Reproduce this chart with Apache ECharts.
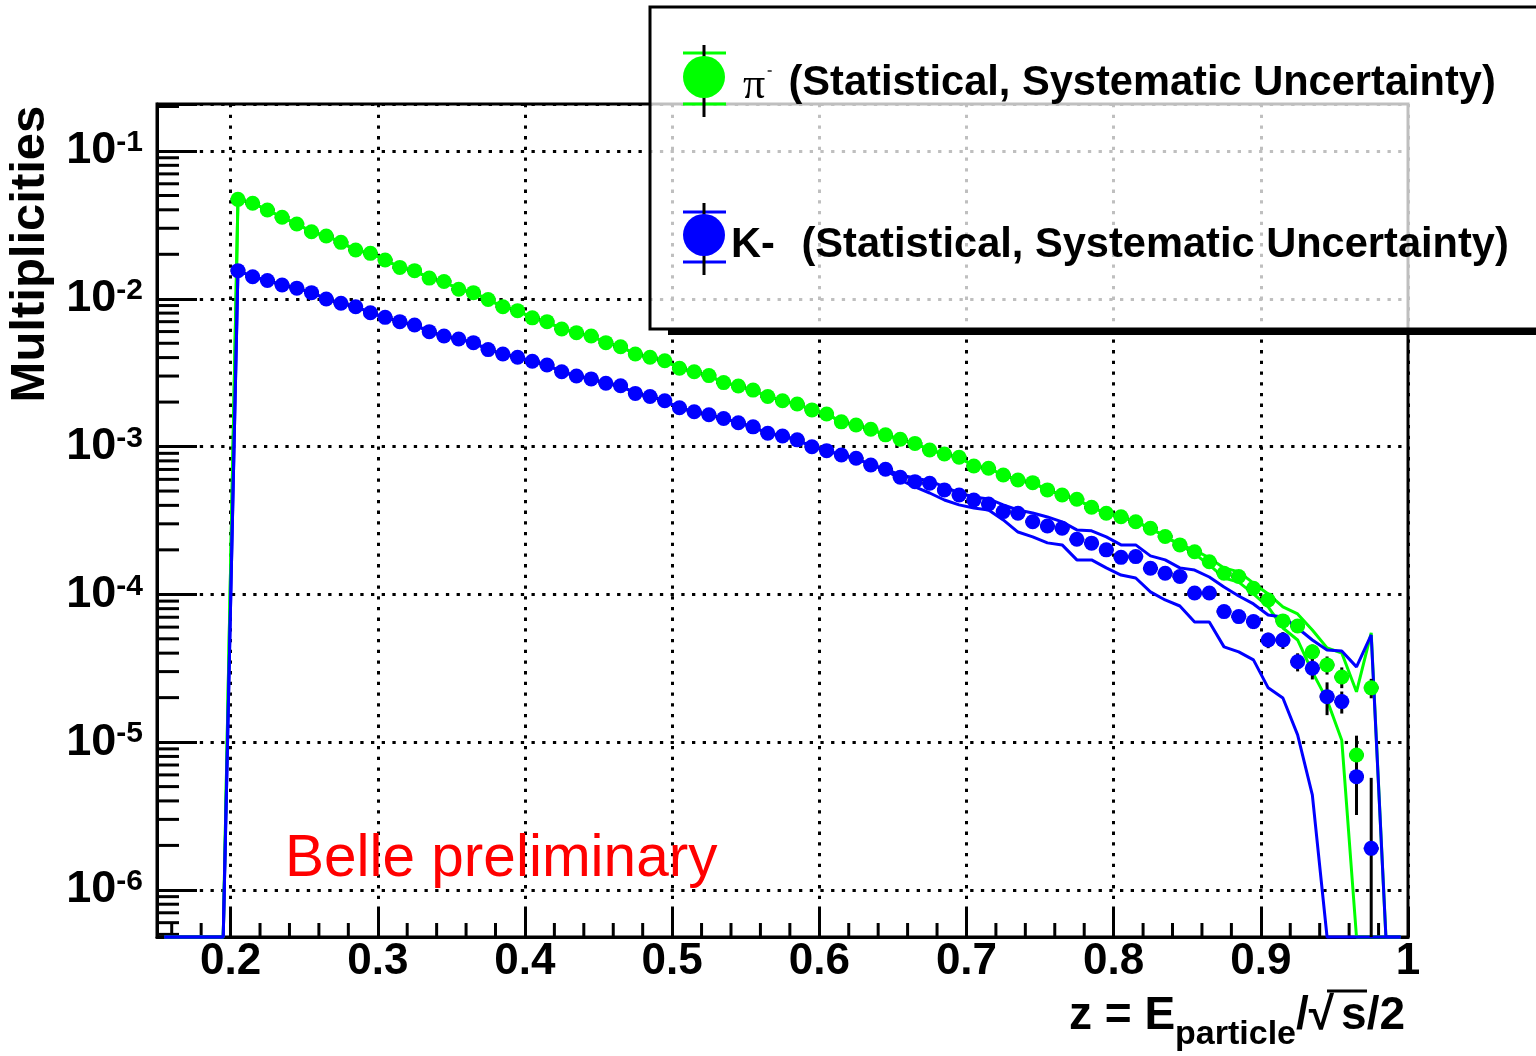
<!DOCTYPE html>
<html><head><meta charset="utf-8">
<script src="https://cdn.jsdelivr.net/npm/echarts@6/dist/echarts.min.js"></script>
<style>html,body{margin:0;padding:0;background:#fff}#c{width:1536px;height:1056px}</style>
</head><body><div id="c"></div>
<script>
// ---------- data ----------
const zBins = [
 0.205,0.215,0.225,0.235,0.245,0.255,0.265,0.275,0.285,0.295,
 0.305,0.315,0.325,0.335,0.345,0.355,0.365,0.375,0.385,0.395,
 0.405,0.415,0.425,0.435,0.445,0.455,0.465,0.475,0.485,0.495,
 0.505,0.515,0.525,0.535,0.545,0.555,0.565,0.575,0.585,0.595,
 0.605,0.615,0.625,0.635,0.645,0.655,0.665,0.675,0.685,0.695,
 0.705,0.715,0.725,0.735,0.745,0.755,0.765,0.775,0.785,0.795,
 0.805,0.815,0.825,0.835,0.845,0.855,0.865,0.875,0.885,0.895,
 0.905,0.915,0.925,0.935,0.945,0.955,0.965,0.975];
// pi- multiplicities
const piMult = [
 0.0471,0.0443,0.0399,0.0356,0.0321,0.0284,0.0266,0.0241,0.0214,0.0203,
 0.0183,0.0163,0.0155,0.0138,0.0131,0.0116,0.0110,0.00988,0.00884,0.00831,
 0.00743,0.00700,0.00625,0.00590,0.00560,0.00505,0.00474,0.00423,0.00402,0.00381,
 0.00339,0.00321,0.00302,0.00271,0.00257,0.00241,0.00218,0.00204,0.00194,0.00177,
 0.00166,0.00147,0.00140,0.00131,0.00120,0.00112,0.00105,0.000948,0.000891,0.000847,
 0.000739,0.000713,0.000642,0.000594,0.000570,0.000509,0.000470,0.000440,0.000388,0.000354,
 0.000335,0.000310,0.000280,0.000246,0.000216,0.000194,0.000166,0.000139,0.000132,0.000110,
 9.16e-5,6.61e-5,6.11e-5,4.08e-5,3.33e-5,2.76e-5,8.19e-6,2.33e-5];
// K- multiplicities
const kMult = [
 0.0155,0.0141,0.0133,0.0124,0.0118,0.0110,0.00997,0.00932,0.00884,0.00805,
 0.00749,0.00700,0.00665,0.00599,0.00560,0.00534,0.00505,0.00453,0.00423,0.00402,
 0.00378,0.00356,0.00321,0.00300,0.00287,0.00268,0.00258,0.00229,0.00218,0.00204,
 0.00183,0.00172,0.00164,0.00155,0.00145,0.00136,0.00123,0.00118,0.00111,0.000998,
 0.000938,0.000877,0.000833,0.000751,0.000702,0.000620,0.000579,0.000564,0.000509,0.000470,
 0.000435,0.000409,0.000363,0.000354,0.000310,0.000290,0.000280,0.000236,0.000222,0.000200,
 0.000178,0.000180,0.000150,0.000139,0.000132,0.000102,0.000102,7.64e-5,7.07e-5,6.54e-5,
 4.91e-5,4.91e-5,3.50e-5,3.16e-5,2.03e-5,1.88e-5,5.84e-6,1.91e-6];
// statistical uncertainty, percent of value
const piStatPct = [
 0.4,0.4,0.4,0.4,0.4,0.4,0.4,0.4,0.4,0.4,
 0.5,0.5,0.5,0.5,0.5,0.5,0.5,0.5,0.5,0.5,
 0.7,0.7,0.7,0.7,0.7,0.7,0.7,0.7,0.7,0.7,
 1.0,1.0,1.0,1.0,1.0,1.0,1.0,1.0,1.0,1.0,
 1.4,1.5,1.5,1.6,1.7,1.8,1.9,2.0,2.1,2.2,
 2.4,2.5,2.7,2.8,3.0,3.2,3.4,3.6,3.8,4.0,
 4.2,4.4,4.7,5.0,5.3,5.6,6.0,6.5,7.0,7.5,
 8,9,10,12,14,16,35,15];
const kStatPct = [
 0.6,0.6,0.6,0.6,0.6,0.6,0.6,0.6,0.6,0.6,
 0.8,0.8,0.8,0.8,0.8,0.8,0.8,0.8,0.8,0.8,
 1.0,1.0,1.0,1.0,1.0,1.0,1.0,1.0,1.0,1.0,
 1.3,1.3,1.3,1.3,1.3,1.3,1.3,1.3,1.3,1.3,
 1.8,1.9,2.0,2.1,2.2,2.3,2.4,2.5,2.6,2.8,
 3.0,3.2,3.4,3.6,3.8,4.0,4.2,4.5,4.8,5.0,
 5.3,5.6,6,6.5,7,7.5,8,9,10,11,
 12,13,14,16,25,17,45,200];
// empty bins below the z threshold
const zEmptyLow = [0.155,0.165,0.175,0.185,0.195];
// systematic band edges where they separate from the points (below: band hidden under markers)
const kSysZ = [0.655,0.665,0.675,0.685,0.695,0.705,0.715,0.725,0.735,0.745,
 0.755,0.765,0.775,0.785,0.795,0.805,0.815,0.825,0.835,0.845,
 0.855,0.865,0.875,0.885,0.895,0.905,0.915,0.925,0.935,0.945,
 0.955,0.965,0.975,0.985,0.995];
const kSysUp = [6.42e-4,6.13e-4,5.85e-4,5.33e-4,4.85e-4,4.56e-4,4.42e-4,4.03e-4,3.72e-4,3.55e-4,
 3.34e-4,3.09e-4,2.73e-4,2.69e-4,2.45e-4,2.16e-4,2.16e-4,1.82e-4,1.71e-4,1.51e-4,
 1.46e-4,1.31e-4,1.12e-4,9.75e-5,8.61e-5,7.25e-5,7.03e-5,5.92e-5,4.91e-5,4.20e-5,
 4.14e-5,3.23e-5,5.31e-5,0,0];
const kSysLow = [5.94e-4,5.33e-4,4.85e-4,4.35e-4,4.03e-4,3.84e-4,3.72e-4,3.19e-4,2.64e-4,2.45e-4,
 2.23e-4,2.16e-4,1.71e-4,1.71e-4,1.51e-4,1.35e-4,1.29e-4,1.04e-4,9.16e-5,8.34e-5,
 6.50e-5,6.50e-5,4.41e-5,4.08e-5,3.60e-5,2.33e-5,1.99e-5,1.12e-5,4.39e-6,0,
 0,0,0,0,0];
const piSysZ = [0.855,0.865,0.875,0.885,0.895,0.905,0.915,0.925,0.935,0.945,0.955,0.965,0.975,0.985,0.995];
const piSysUp = [2.00e-4,1.76e-4,1.51e-4,1.42e-4,1.19e-4,1.006e-4,8.22e-5,7.37e-5,5.74e-5,4.34e-5,4.01e-5,2.19e-5,5.48e-5,0,0];
const piSysLow = [1.88e-4,1.58e-4,1.29e-4,1.21e-4,1.006e-4,8.22e-5,5.92e-5,4.91e-5,2.99e-5,1.93e-5,1.03e-5,0,0,0,0];
// axis ticks
const xMajor = [0.2,0.3,0.4,0.5,0.6,0.7,0.8,0.9,1.0];
const xMinor = [0.16,0.18,0.22,0.24,0.26,0.28,0.32,0.34,0.36,0.38,0.42,0.44,0.46,0.48,0.52,0.54,0.56,0.58,
  0.62,0.64,0.66,0.68,0.72,0.74,0.76,0.78,0.82,0.84,0.86,0.88,0.92,0.94,0.96,0.98];
const yMinorMantissa = [2,3,4,5,6,7,8,9];
const yDecades = [-7,-6,-5,-4,-3,-2,-1];

const XMIN = 0.15, XMAX = 1.0, YMIN = 4.8e-7, YMAX = 0.208;
const GREEN = '#00ff00', BLUE = '#0000ff';
const FONT = "'Liberation Sans', Arial, Helvetica, sans-serif";

// ---------- helpers ----------
const clampY = v => Math.max(v, YMIN);
function bandLine(central, sysZ, sysVals) {
  const pts = zEmptyLow.map(z => [z, 0]);
  zBins.forEach((z, i) => { if (z < sysZ[0] - 1e-9) pts.push([z, central[i]]); });
  sysZ.forEach((z, i) => pts.push([z, sysVals[i]]));
  return pts.map(p => [p[0], clampY(p[1])]);
}
function errData(central, pct) {
  return zBins.map((z, i) => [z, central[i], central[i] * pct[i] / 100]);
}
function pointData(central) { return zBins.map((z, i) => [z, central[i]]); }

function errRender(params, api) {
  const z = api.value(0), v = api.value(1), e = api.value(2);
  const top = api.coord([z, Math.min(v + e, YMAX)]);
  const bot = api.coord([z, clampY(v - e)]);
  const l = api.coord([z - 0.005, v]);
  const r = api.coord([z + 0.005, v]);
  const st = { stroke: '#000', lineWidth: 3 };
  return { type: 'group', children: [
    { type: 'line', shape: { x1: top[0], y1: top[1], x2: bot[0], y2: bot[1] }, style: st },
    { type: 'line', shape: { x1: l[0], y1: l[1], x2: r[0], y2: r[1] }, style: st }
  ]};
}

const minorTickData = [];
xMinor.forEach(z => minorTickData.push([z, YMIN, 0]));
yDecades.forEach(d => yMinorMantissa.forEach(m => {
  const v = m * Math.pow(10, d);
  if (v > YMIN && v < YMAX) minorTickData.push([XMIN, v, 1]);
}));

function lineSeries(name, data, color) {
  return { name, type: 'line', data, showSymbol: false, symbol: 'none', clip: false, z: 3,
    lineStyle: { color, width: 3 }, itemStyle: { color }, silent: true, animation: false };
}
function errSeries(name, data) {
  return { name, type: 'custom', data, renderItem: errRender, clip: false, z: 4, silent: true,
    encode: { x: 0, y: 1 } };
}
function markerSeries(name, data, color) {
  return { name, type: 'scatter', data, symbol: 'circle', symbolSize: 15, clip: false, z: 5,
    itemStyle: { color, opacity: 1 }, silent: true };
}

const option = {
  animation: false,
  backgroundColor: '#fff',
  grid: { left: 157, top: 104, width: 1251, height: 833, show: true, borderColor: '#000', borderWidth: 3, backgroundColor: 'transparent' },
  xAxis: {
    type: 'value', min: XMIN, max: XMAX, splitNumber: 8,
    axisLine: { show: true, onZero: false, lineStyle: { color: '#000', width: 3 } },
    axisTick: { show: true, inside: true, length: 30, customValues: xMajor, lineStyle: { color: '#000', width: 3 } },
    axisLabel: {
      customValues: xMajor, margin: 3, color: '#000', fontSize: 44, fontWeight: 'bold', fontFamily: FONT,
      formatter: v => { const r = Math.round(v * 10) / 10; if (Math.abs(v - r) > 1e-6) return ''; return r === 1 ? '1' : r.toFixed(1); }
    },
    splitLine: { show: true, lineStyle: { color: '#000', width: 3, type: [3.3, 7.4] } }
  },
  yAxis: {
    type: 'log', logBase: 10, min: YMIN, max: YMAX,
    axisLine: { show: true, onZero: false, lineStyle: { color: '#000', width: 3 } },
    axisTick: { show: true, inside: true, length: 40, lineStyle: { color: '#000', width: 3 } },
    minorTick: { show: false },
    axisLabel: {
      margin: 14, color: '#000',
      formatter: v => { const e = Math.log10(v); const r = Math.round(e); if (Math.abs(e - r) > 1e-6) return ''; return '{b|10}{s|' + r + '}'; },
      rich: {
        b: { fontSize: 45, fontWeight: 'bold', fontFamily: FONT, color: '#000', lineHeight: 46 },
        s: { fontSize: 30, fontWeight: 'bold', fontFamily: FONT, color: '#000', lineHeight: 16, verticalAlign: 'top' }
      }
    },
    splitLine: { show: true, lineStyle: { color: '#000', width: 3, type: [3.3, 7.4] } }
  },
  series: [
    { name: 'minor ticks', type: 'custom', data: minorTickData, clip: false, z: 1, silent: true,
      renderItem: (params, api) => {
        const p = api.coord([api.value(0), api.value(1)]);
        const k = api.value(2);
        const shape = k === 1 ? { x1: p[0], y1: p[1], x2: p[0] + 22, y2: p[1] } : { x1: p[0], y1: p[1], x2: p[0], y2: p[1] - 14 };
        return { type: 'line', shape, style: { stroke: '#000', lineWidth: 3 } };
      } },
    lineSeries('π- sys up', bandLine(piMult, piSysZ, piSysUp), GREEN),
    lineSeries('π- sys low', bandLine(piMult, piSysZ, piSysLow), GREEN),
    errSeries('π- stat', errData(piMult, piStatPct)),
    markerSeries('π-', pointData(piMult), GREEN),
    lineSeries('K- sys up', bandLine(kMult, kSysZ, kSysUp), BLUE),
    lineSeries('K- sys low', bandLine(kMult, kSysZ, kSysLow), BLUE),
    errSeries('K- stat', errData(kMult, kStatPct)),
    markerSeries('K-', pointData(kMult), BLUE)
  ],
  graphic: [
    // y axis title
    { type: 'text', x: 30.5, y: 254, rotation: Math.PI / 2, z: 50,
      style: { text: 'Multiplicities', font: "bold 49px " + FONT, fill: '#000', align: 'center', verticalAlign: 'middle' } },
    // x axis title
    { type: 'text', x: 1405, y: 993, z: 50,
      style: { text: '{m|z = E}{sub|particle}{r|/√}{m|s/2}', align: 'right', verticalAlign: 'top',
        rich: {
          m: { fontSize: 46, fontWeight: 'bold', fontFamily: FONT, fill: '#000', lineHeight: 46, verticalAlign: 'top' },
          r: { fontSize: 46, fontWeight: 'bold', fontFamily: FONT, fill: '#000', lineHeight: 46, verticalAlign: 'top', padding: [0, 7, 0, 0] },
          sub: { fontSize: 34, fontWeight: 'bold', fontFamily: FONT, fill: '#000', lineHeight: 34, verticalAlign: 'top', padding: [25, 0, 0, 0] }
        } } },
    { type: 'line', z: 50, shape: { x1: 1327, y1: 991, x2: 1367, y2: 991 }, style: { stroke: '#000', lineWidth: 3 } },
    // Belle preliminary
    { type: 'text', x: 285, y: 860, z: 50,
      style: { text: 'Belle preliminary', font: "58.5px " + FONT, fill: '#ff0000', align: 'left', verticalAlign: 'middle' } },
    // legend box
    { type: 'group', z: 100, children: [
      { type: 'rect', z: 100, shape: { x: 650, y: 7, width: 960, height: 322 }, style: { fill: 'rgba(255,255,255,0.75)', stroke: '#000', lineWidth: 3 } },
      { type: 'rect', z: 100, shape: { x: 668, y: 330, width: 900, height: 5 }, style: { fill: '#000' } },
      // pi entry
      { type: 'line', z: 101, shape: { x1: 683, y1: 53, x2: 726, y2: 53 }, style: { stroke: GREEN, lineWidth: 3 } },
      { type: 'line', z: 101, shape: { x1: 683, y1: 104, x2: 726, y2: 104 }, style: { stroke: GREEN, lineWidth: 3 } },
      { type: 'line', z: 101, shape: { x1: 704, y1: 45, x2: 704, y2: 117 }, style: { stroke: '#000', lineWidth: 3 } },
      { type: 'circle', z: 102, shape: { cx: 704, cy: 77, r: 21 }, style: { fill: GREEN } },
      { type: 'text', z: 102, x: 743, y: 86, style: { text: 'π', font: "44px 'Liberation Serif', 'Times New Roman', serif", fill: '#000', align: 'left', verticalAlign: 'middle' } },
      { type: 'text', z: 102, x: 767, y: 71, style: { text: '-', font: "bold 16px " + FONT, fill: '#555', align: 'left', verticalAlign: 'middle' } },
      { type: 'text', z: 102, x: 788.5, y: 83.4, style: { text: '(Statistical, Systematic Uncertainty)', font: "bold 41.6px " + FONT, fill: '#000', align: 'left', verticalAlign: 'middle' } },
      // K entry
      { type: 'line', z: 101, shape: { x1: 683, y1: 212, x2: 726, y2: 212 }, style: { stroke: BLUE, lineWidth: 3 } },
      { type: 'line', z: 101, shape: { x1: 683, y1: 262, x2: 726, y2: 262 }, style: { stroke: BLUE, lineWidth: 3 } },
      { type: 'line', z: 101, shape: { x1: 704, y1: 203, x2: 704, y2: 275 }, style: { stroke: '#000', lineWidth: 3 } },
      { type: 'circle', z: 102, shape: { cx: 704, cy: 235, r: 21 }, style: { fill: BLUE } },
      { type: 'text', z: 102, x: 731, y: 245.4, style: { text: 'K-', font: "bold 41.6px " + FONT, fill: '#000', align: 'left', verticalAlign: 'middle' } },
      { type: 'text', z: 102, x: 801.5, y: 245.4, style: { text: '(Statistical, Systematic Uncertainty)', font: "bold 41.6px " + FONT, fill: '#000', align: 'left', verticalAlign: 'middle' } }
    ] }
  ]
};

const chart = echarts.init(document.getElementById('c'), null, { renderer: 'canvas' });
chart.setOption(option);
</script>
</body></html>
